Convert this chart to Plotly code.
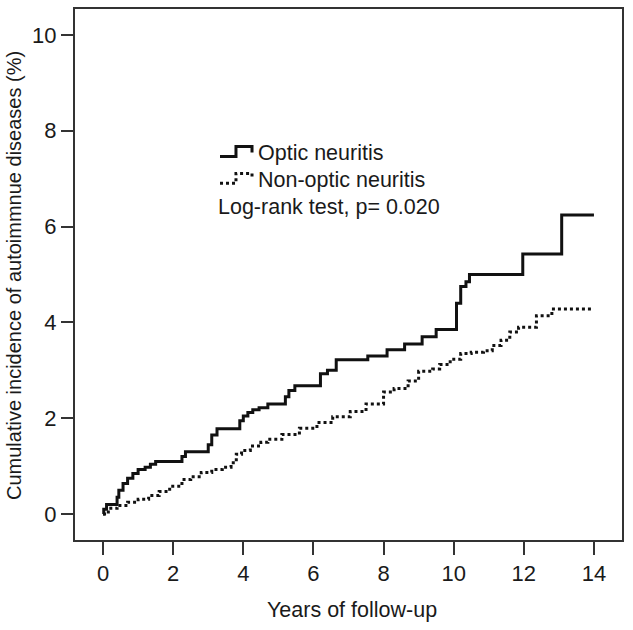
import plotly.graph_objects as go

# Kaplan-Meier style cumulative incidence (%)
anos_optic = [0, 0.02, 0.1, 0.4, 0.45, 0.57, 0.7, 0.85, 1.0, 1.2, 1.35, 1.5, 2.25, 2.35, 3.0, 3.1,
              3.25, 3.9, 4.0, 4.13, 4.27, 4.45, 4.7, 5.2, 5.3, 5.47, 6.2, 6.4, 6.65, 7.55, 8.1,
              8.6, 9.1, 9.5, 10.08, 10.2, 10.35, 10.45, 11.97, 13.08, 14.0]
inc_optic = [0, 0.1, 0.2, 0.35, 0.5, 0.64, 0.75, 0.85, 0.93, 0.98, 1.04, 1.1, 1.2, 1.3, 1.45, 1.65,
             1.78, 1.95, 2.05, 2.12, 2.18, 2.22, 2.3, 2.45, 2.58, 2.68, 2.93, 3.0, 3.22, 3.3, 3.43,
             3.55, 3.7, 3.85, 4.4, 4.75, 4.85, 5.0, 5.43, 6.24, 6.24]

anos_non = [0, 0.15, 0.4, 0.7, 1.0, 1.3, 1.6, 1.9, 2.25, 2.5, 2.8, 3.1, 3.4, 3.65, 3.8, 3.95, 4.2,
            4.5, 4.7, 5.1, 5.6, 6.1, 6.55, 7.05, 7.5, 8.0, 8.3, 8.7, 9.0, 9.4, 9.6, 9.9, 10.2,
            10.5, 10.85, 11.1, 11.35, 11.6, 11.85, 12.36, 12.8, 14.0]
inc_non = [0, 0.12, 0.18, 0.25, 0.31, 0.39, 0.47, 0.58, 0.72, 0.78, 0.87, 0.93, 0.98, 1.07, 1.25,
           1.33, 1.42, 1.5, 1.56, 1.66, 1.79, 1.91, 2.03, 2.14, 2.3, 2.55, 2.62, 2.78, 2.98, 3.03,
           3.12, 3.23, 3.35, 3.38, 3.41, 3.52, 3.63, 3.8, 3.9, 4.14, 4.28, 4.28]

x_ticks = [0, 2, 4, 6, 8, 10, 12, 14]
y_ticks = [0, 2, 4, 6, 8, 10]

FONTE = "Liberation Sans, Arial, sans-serif"
COR_TXT = "#1a1a1a"

# area do grafico em pixels (o body fica sem margem, ver post_script)
W, H = 633, 630
L, R, T, B = 75, 11, 7, 90
PW, PH = W - L - R, H - T - B


def px2paper(px, py):
    """converte pixel da imagem para coordenada paper"""
    return (px - L) / PW, (H - B - py) / PH


def degrau(pontos):
    """path SVG em coordenadas paper para o simbolo da legenda"""
    partes = []
    for i, (px, py) in enumerate(pontos):
        x, y = px2paper(px, py)
        partes.append(("M" if i == 0 else "L") + f" {x:.4f},{y:.4f}")
    return " ".join(partes)


fig = go.Figure()

fig.add_trace(go.Scatter(
    x=anos_optic, y=inc_optic,
    mode='lines', line=dict(color='#111111', width=3, shape='hv'),
    name='Optic neuritis', showlegend=False
))

fig.add_trace(go.Scatter(
    x=anos_non, y=inc_non,
    mode='lines', line=dict(color='#111111', width=3, shape='hv', dash='dot'),
    name='Non-optic neuritis', showlegend=False
))

# legenda desenhada a mao (simbolo em degrau como no SPSS)
fig.add_shape(type='path', xref='paper', yref='paper',
              path=degrau([(220, 155), (236, 155), (236, 145), (252, 145), (252, 151)]),
              line=dict(color='#111111', width=3))
fig.add_shape(type='path', xref='paper', yref='paper',
              path=degrau([(220, 182), (236, 182), (236, 172), (252, 172), (252, 178)]),
              line=dict(color='#111111', width=3, dash='dot'))

legendas = [("Optic neuritis", 256, 152), ("Non-optic neuritis", 256, 179),
            ("Log-rank test, p= 0.020", 216, 206)]
for texto, px, py in legendas:
    x, y = px2paper(px, py)
    fig.add_annotation(x=x, y=y, xref='paper', yref='paper', text=texto, showarrow=False,
                       xanchor='left', yanchor='middle', font=dict(size=21.5, color=COR_TXT))

# titulos dos eixos
x, y = px2paper(14, 275)
fig.add_annotation(x=x, y=y, xref='paper', yref='paper', textangle=-90, showarrow=False,
                   text="Cumulative incidence of autoimmnue diseases (%)",
                   xanchor='center', yanchor='middle', font=dict(size=20, color=COR_TXT))
x, y = px2paper(352, 610)
fig.add_annotation(x=x, y=y, xref='paper', yref='paper', showarrow=False,
                   text="Years of follow-up",
                   xanchor='center', yanchor='middle', font=dict(size=21.5, color=COR_TXT))

fig.update_layout(
    width=W, height=H,
    margin=dict(l=L, r=R, t=T, b=B),
    paper_bgcolor='white', plot_bgcolor='white',
    font=dict(family=FONTE, color=COR_TXT),
    xaxis=dict(range=[-0.8, 14.8], tickvals=x_ticks, showgrid=False, zeroline=False,
               showline=True, mirror=True, linecolor='#333333', linewidth=2,
               ticks='outside', ticklen=13, tickwidth=2, tickcolor='#333333',
               tickfont=dict(size=22)),
    yaxis=dict(range=[-0.54, 10.54], tickvals=y_ticks, showgrid=False, zeroline=False,
               showline=True, mirror=True, linecolor='#333333', linewidth=2,
               ticks='outside', ticklen=12, tickwidth=2, tickcolor='#333333',
               tickfont=dict(size=22)),
    showlegend=False
)

# tira a margem padrao do body para a figura ocupar a janela inteira
fig.write_html("out.html", config={'displayModeBar': False},
               post_script="document.body.style.margin='0px';")
